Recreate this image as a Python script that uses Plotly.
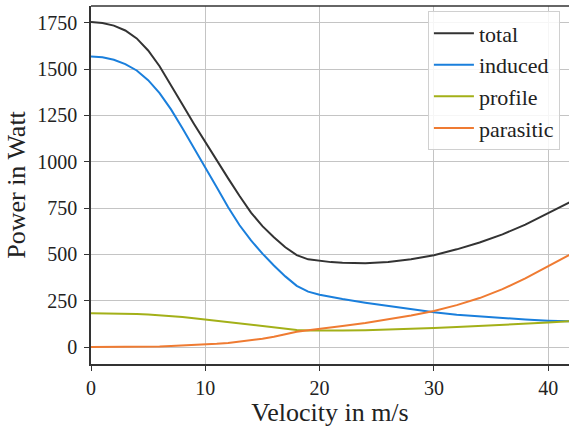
import plotly.graph_objects as go

velocity = [0, 1, 2, 3, 4, 5, 6, 7, 8, 9, 10, 11, 12, 13, 14, 15, 16, 17, 18, 19, 20, 21, 22,
            24, 26, 28, 30, 32, 34, 36, 38, 40, 42]
total = [1753, 1748, 1734, 1708, 1665, 1600, 1515, 1415, 1308, 1205, 1105, 1008, 910, 815, 725, 652, 592, 538, 496, 473, 464, 458, 455,
         452, 459, 473, 495, 527, 564, 608, 660, 721, 785]
induced = [1567, 1563, 1550, 1526, 1492, 1440, 1370, 1282, 1180, 1076, 970, 862, 754, 657, 575, 504, 440, 381, 330, 299, 282, 270, 259,
           239, 221, 203, 187, 174, 164, 155, 148, 142, 138]
profile = [182, 182, 181, 180, 178, 175, 172, 167, 162, 155, 148, 141, 134, 127, 120, 112, 105, 98, 92, 89, 88, 88, 89,
           91, 94, 98, 103, 108, 113, 118, 124, 132, 140]
parasitic = [0, 0, 0.3, 0.6, 1, 2, 3, 5, 7, 10, 13, 17, 22, 28, 35, 44, 55, 68, 82, 90, 97, 105, 113,
             130, 148, 170, 194, 226, 264, 312, 370, 434, 502]

series = [
    ("total", total, "#333333"),
    ("induced", induced, "#1a7fdc"),
    ("profile", profile, "#a3b018"),
    ("parasitic", parasitic, "#ef7b32"),
]

FONT = "'Liberation Serif', serif"

fig = go.Figure()
for name, vals, color in series:
    fig.add_trace(go.Scatter(
        x=velocity, y=vals, mode="lines", name=name,
        line=dict(color=color, width=2),
    ))

fig.update_layout(
    width=569, height=427,
    margin=dict(l=91, r=0, t=6, b=63),
    paper_bgcolor="white", plot_bgcolor="white",
    font=dict(family=FONT, size=20, color="#222222"),
    showlegend=True,
    legend=dict(
        x=0.981, y=0.985, xanchor="right", yanchor="top",
        bgcolor="rgba(255,255,255,0.85)", bordercolor="#d0d0d0", borderwidth=1,
        font=dict(family=FONT, size=22, color="#222222"),
        tracegroupgap=0, itemwidth=40,
    ),
)

fig.update_xaxes(
    range=[0, 41.82],
    tickvals=[0, 10, 20, 30, 40],
    showgrid=True, gridcolor="#c4c4c4", gridwidth=1,
    zeroline=False,
    showline=True, linecolor="#333333", linewidth=1.5,
    ticks="outside", ticklen=5, tickcolor="#333333",
    tickfont=dict(family=FONT, size=20),
    title=dict(text="Velocity in m/s", font=dict(family=FONT, size=26), standoff=2),
)
fig.update_yaxes(
    range=[-91.7, 1840],
    tickvals=[0, 250, 500, 750, 1000, 1250, 1500, 1750],
    showgrid=True, gridcolor="#c4c4c4", gridwidth=1,
    zeroline=False,
    showline=True, linecolor="#333333", linewidth=1.5,
    ticks="outside", ticklen=5, tickcolor="#333333",
    tickfont=dict(family=FONT, size=20),
    ticklabelstandoff=3,
    title=dict(text="Power in Watt", font=dict(family=FONT, size=26), standoff=4),
)

fig.add_shape(type="line", xref="paper", yref="paper", x0=0, x1=1, y0=1, y1=1,
              line=dict(color="#333333", width=1.5))

fig.write_html("out.html")
